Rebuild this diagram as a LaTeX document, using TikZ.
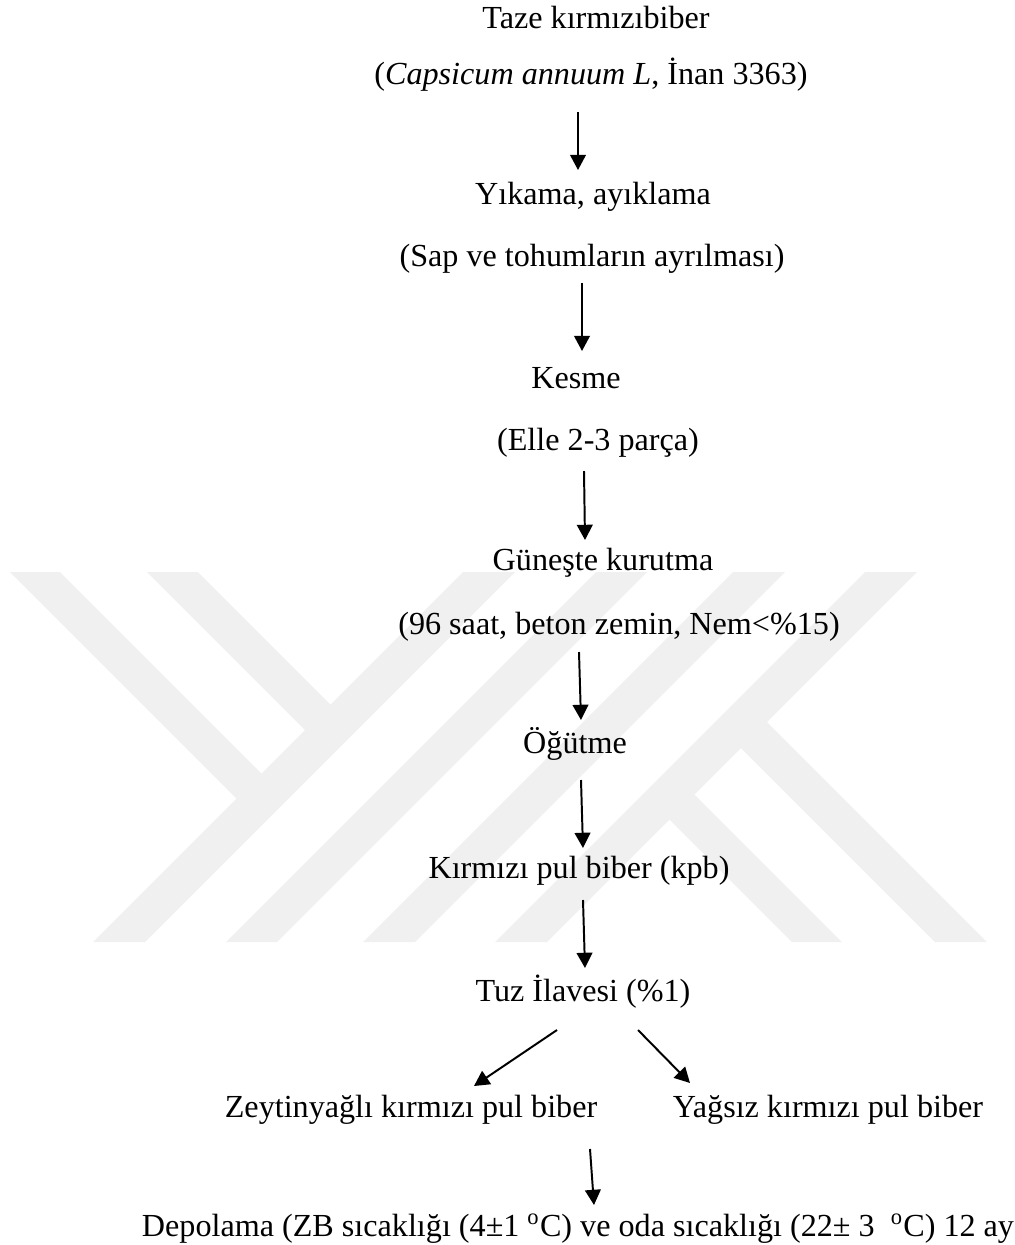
\documentclass[tikz,border=0pt]{standalone}
\usepackage{fontspec}
\setmainfont{Liberation Serif}
\usetikzlibrary{arrows.meta}

\begin{document}
\begin{tikzpicture}[x=0.381pt,y=-0.381pt,
  lbl/.style={anchor=base,inner sep=0pt,font=\fontsize{12.25}{14}\selectfont},
  a/.style={-{Triangle[width=6pt,length=5.8pt]},line width=0.75pt},
  wm/.style={fill=black!6}]
\useasboundingbox (0,0) rectangle (1014,1245);

% watermark: Y on the left
\fill[wm] (10,572)--(60,572)--(266.5,778.5)--(241.5,803.5)--cycle;
\fill[wm] (147,572)--(198,572)--(335.5,709.5)--(310,735)--cycle;
\fill[wm] (93,942)--(145,942)--(515,572)--(463,572)--cycle;
% watermark: middle strokes
\fill[wm] (226,942)--(277,942)--(647,572)--(596,572)--cycle;
\fill[wm] (363,942)--(415,942)--(785,572)--(733,572)--cycle;
% watermark: K on the right
\fill[wm] (495,942)--(547,942)--(917,572)--(865,572)--cycle;
\fill[wm] (665,815)--(690,790)--(842,942)--(792,942)--cycle;
\fill[wm] (736.5,743.5)--(762.5,717.5)--(987,942)--(935,942)--cycle;

% process steps
\node[lbl] (taze) at (596,28) {Taze kırmızıbiber};
\node[lbl] (cap) at (591,84) {(\textit{Capsicum annuum L}, İnan 3363)};
\node[lbl] (yik) at (593,204) {Yıkama, ayıklama};
\node[lbl] (sap) at (592,266) {(Sap ve tohumların ayrılması)};
\node[lbl] (kes) at (576,388) {Kesme};
\node[lbl] (elle) at (598,450) {(Elle 2-3 parça)};
\node[lbl] (gun) at (603,570) {Güneşte kurutma};
\node[lbl] (nem) at (619,634) {(96 saat, beton zemin, Nem<\%15)};
\node[lbl] (ogut) at (575,753) {Öğütme};
\node[lbl] (kpb) at (579,878) {Kırmızı pul biber (kpb)};
\node[lbl] (tuz) at (583,1001) {Tuz İlavesi (\%1)};
\node[lbl] (zey) at (411,1117) {Zeytinyağlı kırmızı pul biber};
\node[lbl] (yag) at (828,1117) {Yağsız kırmızı pul biber};
\node[lbl] (dep) at (578,1236) {Depolama (ZB sıcaklığı (4±1 \textsuperscript{o}C) ve oda sıcaklığı (22± 3\ \ \textsuperscript{o}C) 12 ay};

% arrows between the steps
\draw[a] ([shift={(-13,28)}]cap.base) -- ([shift={(-15,-34)}]yik.base);
\draw[a] ([shift={(-10,17)}]sap.base) -- ([shift={(6,-37)}]kes.base);
\draw[a] ([shift={(-14,21)}]elle.base) -- ([shift={(-18,-30)}]gun.base);
\draw[a] ([shift={(-40,18)}]nem.base) -- ([shift={(6,-33)}]ogut.base);
\draw[a] ([shift={(6,27)}]ogut.base) -- ([shift={(4,-30)}]kpb.base);
\draw[a] ([shift={(4,22)}]kpb.base) -- ([shift={(2,-33)}]tuz.base);
\draw[a] ([shift={(-26,29)}]tuz.base) -- ([shift={(63,-31)}]zey.base);
\draw[a] ([shift={(55,29)}]tuz.base) -- ([shift={(-138,-34)}]yag.base);
\draw[a] ([shift={(179,32)}]zey.base) -- ([shift={(16,-31)}]dep.base);
\end{tikzpicture}
\end{document}
